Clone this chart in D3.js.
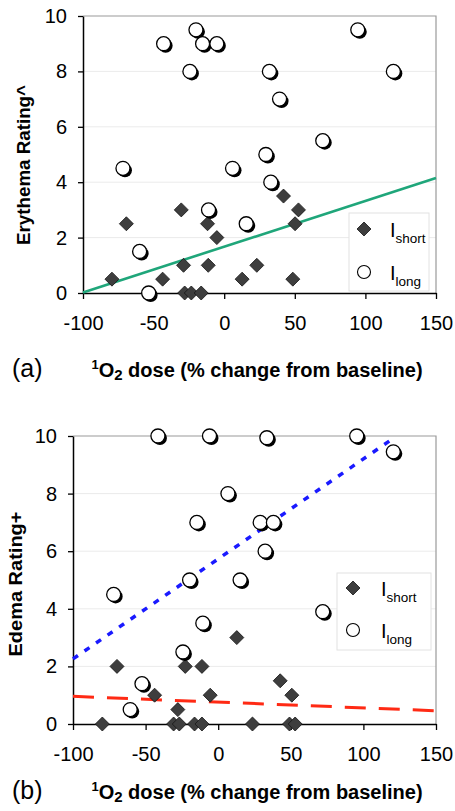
<!DOCTYPE html>
<html>
<head>
<meta charset="utf-8">
<script src="https://cdn.jsdelivr.net/npm/d3@7"></script>
<style>
  html, body { margin: 0; padding: 0; background: white; }
  svg text { font-family: 'Liberation Sans', Arial, sans-serif; fill: black; }
</style>
</head>
<body>
<svg id="chart"></svg>
<script>
let xTicks = [-100, -50, 0, 50, 100, 150];
let yTicks = [0, 2, 4, 6, 8, 10];
let gridTicks = [2, 4, 6, 8];

// panel (a): erythema, [dose change %, rating]
let erythemaShort = [
  [-79.5, 0.5], [-69.3, 2.5], [-43.6, 0.5], [-30.4, 3], [-28.8, 1], [-28, 0],
  [-23.3, 0], [-16.3, 0], [-11.8, 2.5], [-11.3, 1], [-5.2, 2], [12.7, 0.5],
  [23.1, 1], [42, 3.5], [48.6, 0.5], [50.2, 2.5], [52.6, 3]
];
let erythemaLong = [
  [-71.7, 4.5], [-59.9, 1.5], [-53.5, 0], [-42.9, 9], [-20, 9.5], [-15.3, 9],
  [-5.2, 9], [-24.3, 8], [-11.1, 3], [5.9, 4.5], [15.6, 2.5], [29.5, 5],
  [32, 8], [33, 4], [39.2, 7], [69.8, 5.5], [94.6, 9.5], [119.8, 8]
];
let erythemaFit = [[-100, 0.02], [150, 4.15]];

// panel (b): edema
let edemaShort = [
  [-79.8, 0], [-69.7, 2], [-43.8, 1], [-30.7, 0], [-27.8, 0.5], [-26.8, 0],
  [-22.7, 2], [-16.3, 0], [-11.2, 2], [-11.2, 0], [-5.5, 1], [12.8, 3],
  [23.6, 0], [42.7, 1.5], [49.1, 0], [50.7, 1], [53, 0]
];
let edemaLong = [
  [-72, 4.5], [-60.6, 0.5], [-52.5, 1.4], [-41.5, 10], [-24.3, 2.5], [-19.7, 5],
  [-14.7, 7], [-10.6, 3.5], [-6, 10], [6.7, 8], [15.1, 5], [28.9, 7],
  [32.3, 6], [33.5, 9.94], [38, 7], [72, 3.9], [95.4, 10], [120.6, 9.45]
];
let edemaLongFit = [[-100, 2.26], [120.6, 9.92]];
let edemaShortFit = [[-100, 0.96], [150, 0.46]];

let width = 455;
let height = 811;

let svg = d3.select('#chart')
  .attr('width', width)
  .attr('height', height)
  .attr('viewBox', `0 0 ${width} ${height}`);

let panels = [
  {
    label: '(a)', yTitle: 'Erythema Rating^', yTitleLen: 160,
    left: 83, right: 436, top: 16, bottom: 293,
    yTitleX: 30, yTitleY: 165, titleY: 377,
    short: erythemaShort, long: erythemaLong,
    fits: [{ pts: erythemaFit, color: '#1fa67a', dash: null, w: 2.6 }],
    legend: { x: 349, y: 213, w: 80, h: 78, mx: 364, tx: 390, r1: 229, r2: 272 }
  },
  {
    label: '(b)', yTitle: 'Edema Rating+', yTitleLen: 145,
    left: 73, right: 436, top: 436, bottom: 724,
    yTitleX: 21.5, yTitleY: 584, titleY: 799,
    short: edemaShort, long: edemaLong,
    fits: [
      { pts: edemaLongFit, color: '#1a1aff', dash: '6,8', w: 3.5 },
      { pts: edemaShortFit, color: '#ff2a14', dash: '21,13', w: 3 }
    ],
    legend: { x: 337, y: 573, w: 94, h: 77, mx: 353, tx: 381, r1: 588, r2: 630 }
  }
];

function diamond(s) {
  return `M0,${-s}L${s},0L0,${s}L${-s},0Z`;
}

function drawPanel(p) {
  let g = svg.append('g');

  let xScale = d3.scaleLinear().domain([-100, 150]).range([p.left, p.right]);
  let yScale = d3.scaleLinear().domain([0, 10]).range([p.bottom, p.top]);

  // grid
  g.selectAll('.grid')
    .data(gridTicks)
    .enter()
    .append('line')
    .attr('x1', p.left).attr('x2', p.right)
    .attr('y1', d => yScale(d)).attr('y2', d => yScale(d))
    .attr('stroke', '#ebebeb')
    .attr('stroke-width', 1);

  // top + right frame
  g.append('path')
    .attr('d', `M${p.left},${yScale(10)}H${p.right}V${p.bottom}`)
    .attr('fill', 'none')
    .attr('stroke', '#9a9a9a')
    .attr('stroke-width', 1.2);

  // axes (plain hyphen for negatives)
  let yAxis = g.append('g')
    .attr('transform', `translate(${p.left},0)`)
    .call(d3.axisLeft(yScale).tickValues(yTicks).tickFormat(d => String(d))
      .tickSize(5).tickPadding(11).tickSizeOuter(0));
  yAxis.select('.domain').attr('stroke-width', 1.5);
  yAxis.selectAll('line').attr('stroke-width', 1.3);
  yAxis.selectAll('text')
    .style('font-size', '20px')
    .style('font-family', "'Liberation Sans', Arial, sans-serif");

  let xAxis = g.append('g')
    .attr('transform', `translate(0,${p.bottom})`)
    .call(d3.axisBottom(xScale).tickValues(xTicks).tickFormat(d => String(d))
      .tickSize(6).tickPadding(17).tickSizeOuter(0));
  xAxis.select('.domain').attr('stroke-width', 1.5);
  xAxis.selectAll('line').attr('stroke-width', 1.3);
  xAxis.selectAll('text')
    .style('font-size', '20px')
    .style('font-family', "'Liberation Sans', Arial, sans-serif");

  // fit lines
  let line = d3.line().x(d => xScale(d[0])).y(d => yScale(d[1]));
  p.fits.forEach(f => {
    g.append('path')
      .attr('d', line(f.pts))
      .attr('fill', 'none')
      .attr('stroke', f.color)
      .attr('stroke-width', f.w)
      .attr('stroke-dasharray', f.dash);
  });

  // short: diamonds
  g.selectAll('.short')
    .data(p.short)
    .enter()
    .append('path')
    .attr('d', diamond(7))
    .attr('transform', d => `translate(${xScale(d[0])},${yScale(d[1])})`)
    .attr('fill', '#3e3e3e')
    .attr('stroke', '#151515')
    .attr('stroke-width', 0.8);

  // long: circles with shadow
  let longG = g.selectAll('.long')
    .data(p.long)
    .enter()
    .append('g')
    .attr('transform', d => `translate(${xScale(d[0])},${yScale(d[1])})`);
  longG.append('circle')
    .attr('cx', 2).attr('cy', 2).attr('r', 7)
    .attr('fill', 'black');
  longG.append('circle')
    .attr('r', 7)
    .attr('fill', 'white')
    .attr('stroke', 'black')
    .attr('stroke-width', 1.3);

  // legend
  let L = p.legend;
  g.append('rect')
    .attr('x', L.x).attr('y', L.y).attr('width', L.w).attr('height', L.h)
    .attr('fill', 'white')
    .attr('stroke', '#e2e2e2')
    .attr('stroke-width', 1);
  g.append('path')
    .attr('d', diamond(7))
    .attr('transform', `translate(${L.mx},${L.r1})`)
    .attr('fill', '#3e3e3e')
    .attr('stroke', '#151515')
    .attr('stroke-width', 0.8);
  g.append('circle')
    .attr('cx', L.mx).attr('cy', L.r2).attr('r', 6.5)
    .attr('fill', 'white')
    .attr('stroke', 'black')
    .attr('stroke-width', 1.1);
  [['short', L.r1 + 8], ['long', L.r2 + 8]].forEach(([sub, y]) => {
    let t = g.append('text')
      .attr('x', L.tx).attr('y', y)
      .style('font-size', '20px');
    t.append('tspan').text('I');
    t.append('tspan').attr('dy', 6).style('font-size', '13.5px').text(sub);
  });

  // y title
  g.append('text')
    .attr('transform', `translate(${p.yTitleX},${p.yTitleY}) rotate(-90)`)
    .attr('text-anchor', 'middle')
    .attr('textLength', p.yTitleLen)
    .attr('lengthAdjust', 'spacingAndGlyphs')
    .style('font-size', '18px')
    .style('font-weight', 'bold')
    .text(p.yTitle);

  // x title
  let xt = g.append('text')
    .attr('x', 257).attr('y', p.titleY)
    .attr('text-anchor', 'middle')
    .style('font-size', '20px')
    .style('font-weight', 'bold');
  xt.append('tspan').attr('dy', -8).style('font-size', '13px').text('1');
  xt.append('tspan').attr('dy', 8).text('O');
  xt.append('tspan').attr('dy', 3).style('font-size', '15px').text('2');
  xt.append('tspan').attr('dy', -3).text(' dose (% change from baseline)');

  // panel letter
  g.append('text')
    .attr('x', 12).attr('y', p.titleY)
    .style('font-size', '25px')
    .text(p.label);
}

panels.forEach(drawPanel);
</script>
</body>
</html>
